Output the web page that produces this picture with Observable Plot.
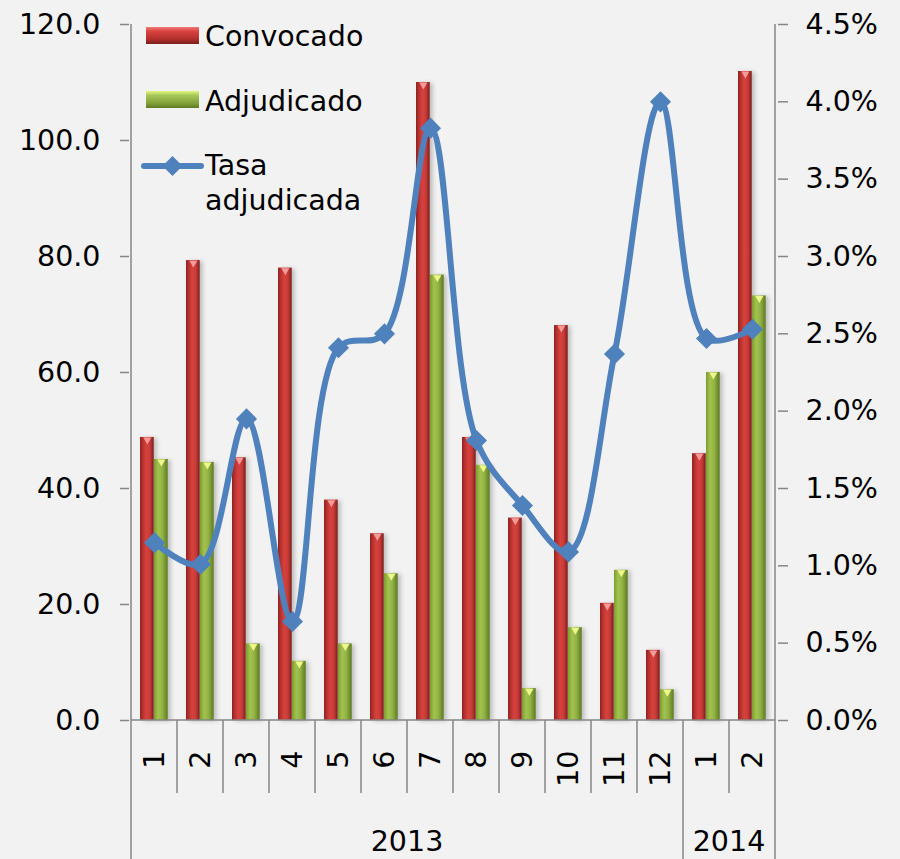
<!DOCTYPE html>
<html><head><meta charset="utf-8">
<script src="https://cdn.jsdelivr.net/npm/d3@7"></script>
<script src="https://cdn.jsdelivr.net/npm/@observablehq/plot@0.6"></script>
<style>
html,body{margin:0;padding:0;background:#f2f2f2;}
#wrap{position:relative;width:900px;height:859px;overflow:hidden;background:#f2f2f2;}
#wrap svg{position:absolute;left:0;top:0;}
</style></head><body><div id="wrap"></div>
<script>
// ---- data ----
const months = ["1","2","3","4","5","6","7","8","9","10","11","12","1","2"];
const years = ["2013","2013","2013","2013","2013","2013","2013","2013","2013","2013","2013","2013","2014","2014"];
const convocado = [48.8, 79.3, 45.3, 78.0, 38.0, 32.2, 110.0, 48.8, 34.9, 68.1, 20.2, 12.1, 46.0, 111.9];
const adjudicado = [45.0, 44.5, 13.2, 10.2, 13.2, 25.3, 76.8, 44.0, 5.5, 16.0, 25.9, 5.3, 60.0, 73.2];
const tasa = [0.0115, 0.0101, 0.0195, 0.0064, 0.0241, 0.0250, 0.0383, 0.0181, 0.0139, 0.0109, 0.0237, 0.0400, 0.0247, 0.0253];
const leftTicks = [0, 20, 40, 60, 80, 100, 120];
const rightTicks = [0, 0.005, 0.01, 0.015, 0.02, 0.025, 0.03, 0.035, 0.04, 0.045];
const seriesNames = ["Convocado", "Adjudicado", "Tasa adjudicada"];

// ---- layout / style ----
const W = 900, H = 859, mL = 129, mR = 123, mT = 24, mB = 139;
const FONT = "'DejaVu Sans', Verdana, sans-serif";
const FS = 28.5;
const AX = "#868686", BLUE = "#4f81bd";
const bw = (W - mL - mR) / months.length;

const rows = months.map((m, i) => ({i, m, yr: years[i], c: convocado[i], a: adjudicado[i], t: tasa[i]}));
const idx = rows.map(d => d.i);

const NS = "http://www.w3.org/2000/svg";
function defsMark() {
  const defs = document.createElementNS(NS, "defs");
  defs.innerHTML = `
    <linearGradient id="gRed" x1="0" x2="1" y1="0" y2="0">
      <stop offset="0" stop-color="#8c2321"/>
      <stop offset="0.18" stop-color="#b3302d"/>
      <stop offset="0.45" stop-color="#d6423e"/>
      <stop offset="0.72" stop-color="#c93b38"/>
      <stop offset="1" stop-color="#7a1f1d"/>
    </linearGradient>
    <linearGradient id="gGreen" x1="0" x2="1" y1="0" y2="0">
      <stop offset="0" stop-color="#7d9c2f"/>
      <stop offset="0.3" stop-color="#a2c350"/>
      <stop offset="0.6" stop-color="#93b444"/>
      <stop offset="1" stop-color="#5d7a22"/>
    </linearGradient>
    <filter id="shadow" x="-30%" y="-5%" width="180%" height="110%">
      <feDropShadow dx="3" dy="1" stdDeviation="2" flood-color="#000" flood-opacity="0.22"/>
    </filter>`;
  return defs;
}

const wrap = document.getElementById("wrap");

const base = Plot.plot({
  width: W, height: H, marginLeft: mL, marginRight: mR, marginTop: mT, marginBottom: mB,
  style: {background: "#f2f2f2", fontFamily: FONT, fontSize: FS + "px", color: "#000", overflow: "visible"},
  x: {type: "band", domain: idx, padding: 0},
  y: {domain: [0, 120]},
  marks: [
    defsMark,
    Plot.barY(rows, {x: "i", y: "c", fill: "url(#gRed)", insetLeft: 9, insetRight: bw - 23}),
    Plot.barY(rows, {x: "i", y: "a", fill: "url(#gGreen)", insetLeft: 23, insetRight: bw - 37}),
    Plot.dot(rows, {x: "i", y: "c", dx: 16 - bw / 2, dy: 2.4, symbol: "triangle", rotate: 180, r: 3, fill: "#f59a98", stroke: null}),
    Plot.dot(rows, {x: "i", y: "a", dx: 30 - bw / 2, dy: 2.4, symbol: "triangle", rotate: 180, r: 3, fill: "#eef78a", stroke: null}),
    Plot.axisY({ticks: leftTicks, tickFormat: d => d.toFixed(1), tickSize: 9, tickPadding: 20, stroke: AX, strokeWidth: 1.5, fill: "#000", label: null}),
    Plot.axisX({tickRotate: -90, tickSize: 0, tickPadding: 30, tickFormat: i => months[i], fill: "#000", label: null})
  ]
});
wrap.appendChild(base);

const xs = base.scale("x"), ys = base.scale("y");
d3.select(base).selectAll('g[aria-label="bar"]').attr("filter", "url(#shadow)");
const g = d3.select(base).append("g").attr("stroke", AX).attr("stroke-width", 1.5);
const xStart = xs.apply(0), xEnd = xs.apply(idx[idx.length - 1]) + xs.bandwidth;
const y0 = ys.apply(0), yTop = ys.apply(120);
g.append("line").attr("x1", xStart).attr("x2", xStart).attr("y1", yTop).attr("y2", H);
g.append("line").attr("x1", xEnd).attr("x2", xEnd).attr("y1", yTop).attr("y2", H);
g.append("line").attr("x1", xStart).attr("x2", xEnd).attr("y1", y0).attr("y2", y0);
// month separators and year groups
rows.forEach((d, k) => {
  if (k === 0) return;
  const x = xs.apply(d.i);
  const long = years[k] !== years[k - 1];
  g.append("line").attr("x1", x).attr("x2", x).attr("y1", y0).attr("y2", long ? H : y0 + 73);
});
const yearGroups = d3.groups(rows, d => d.yr);
yearGroups.forEach(([yr, arr]) => {
  const a = xs.apply(arr[0].i), b = xs.apply(arr[arr.length - 1].i) + xs.bandwidth;
  d3.select(base).append("text").attr("x", (a + b) / 2).attr("y", 851)
    .attr("text-anchor", "middle").attr("font-family", FONT).attr("font-size", FS).attr("fill", "#000").text(yr);
});

const over = Plot.plot({
  width: W, height: H, marginLeft: mL, marginRight: mR, marginTop: mT, marginBottom: mB,
  style: {background: "transparent", fontFamily: FONT, fontSize: FS + "px", color: "#000", overflow: "visible"},
  x: {type: "band", domain: idx, padding: 0, axis: null},
  y: {domain: [0, 0.045]},
  marks: [
    Plot.axisY({anchor: "right", ticks: rightTicks, tickFormat: d => (d * 100).toFixed(1) + "%", tickSize: 10, tickPadding: 18, stroke: AX, strokeWidth: 1.5, fill: "#000", label: null}),
    Plot.line(rows, {x: "i", y: "t", stroke: BLUE, strokeWidth: 6, curve: "catmull-rom"}),
    Plot.dot(rows, {x: "i", y: "t", symbol: "diamond2", r: 9.5, fill: BLUE, stroke: null})
  ]
});
over.style.pointerEvents = "none";
wrap.appendChild(over);

// ---- legend ----
const leg = d3.select(wrap).append("svg").attr("width", 420).attr("height", 230)
  .style("position", "absolute").style("left", "0px").style("top", "0px");
const ld = leg.append("defs");
ld.html(`
  <linearGradient id="lRed" x1="0" x2="0" y1="0" y2="1">
    <stop offset="0" stop-color="#f07a78"/><stop offset="0.25" stop-color="#d9433f"/>
    <stop offset="0.7" stop-color="#b3302d"/><stop offset="1" stop-color="#7a1f1d"/>
  </linearGradient>
  <linearGradient id="lGreen" x1="0" x2="0" y1="0" y2="1">
    <stop offset="0" stop-color="#e4f57a"/><stop offset="0.25" stop-color="#a6c85a"/>
    <stop offset="0.7" stop-color="#84a33a"/><stop offset="1" stop-color="#5d7a22"/>
  </linearGradient>`);
leg.append("rect").attr("x", 146).attr("y", 27).attr("width", 53).attr("height", 17).attr("fill", "url(#lRed)");
leg.append("rect").attr("x", 146).attr("y", 91).attr("width", 53).attr("height", 17).attr("fill", "url(#lGreen)");
leg.append("line").attr("x1", 144).attr("x2", 201).attr("y1", 166).attr("y2", 166).attr("stroke", BLUE).attr("stroke-width", 6).attr("stroke-linecap", "round");
leg.append("path").attr("d", "M172.5,156L182.5,166L172.5,176L162.5,166Z").attr("fill", BLUE);
const lt = leg.append("g").attr("font-family", FONT).attr("font-size", FS).attr("fill", "#000");
lt.append("text").attr("x", 205).attr("y", 46).text(seriesNames[0]);
lt.append("text").attr("x", 205).attr("y", 111).text(seriesNames[1]);
const t3 = seriesNames[2].split(" ");
lt.append("text").attr("x", 205).attr("y", 175).text(t3[0]);
lt.append("text").attr("x", 205).attr("y", 210).text(t3[1]);
</script></body></html>
